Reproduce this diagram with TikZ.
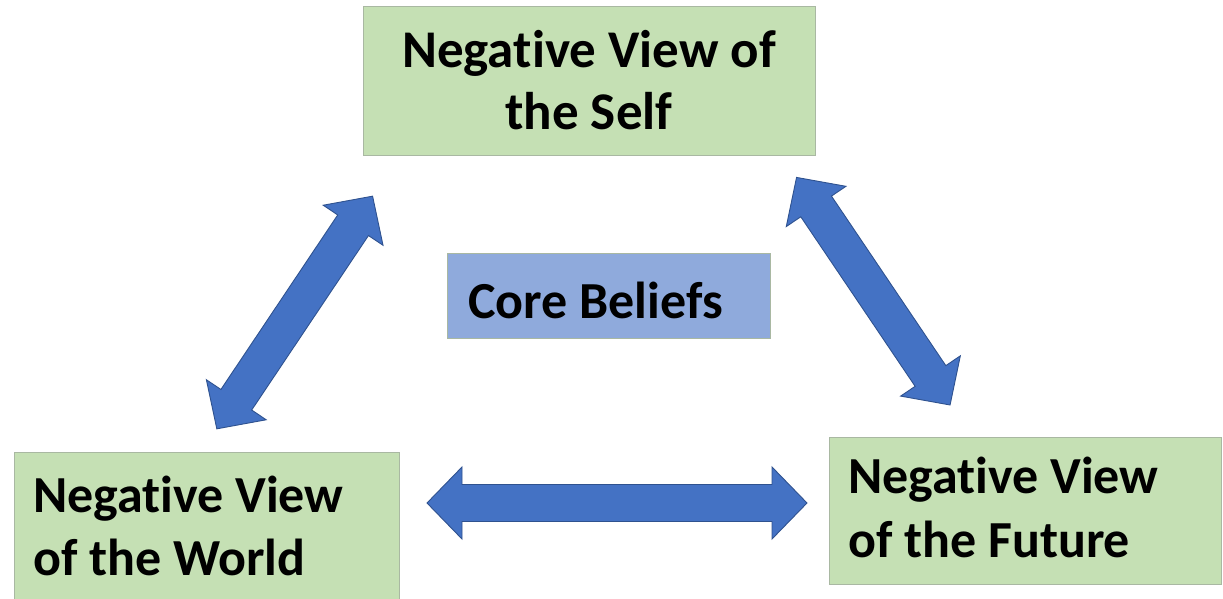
\documentclass[tikz,border=0pt]{standalone}
\usepackage{fontspec}
\setmainfont[RawFeature={-liga;-clig;-calt;-dlig}]{Carlito}

\definecolor{boxgreen}{HTML}{C5E0B4}
\definecolor{boxline}{HTML}{A9B8A2}
\definecolor{coreblue}{HTML}{8FAADC}
\definecolor{arrowfill}{HTML}{4472C4}
\definecolor{arrowline}{HTML}{2F528F}

\tikzset{
  viewbox/.style={draw=boxline, fill=boxgreen, line width=0.8pt},
  corebox/.style={draw=boxline, fill=coreblue, line width=0.8pt},
  bigtext/.style={inner sep=0pt, font=\fontsize{53}{64}\selectfont\bfseries},
  midtext/.style={inner sep=0pt, font=\fontsize{52}{62}\selectfont\bfseries},
  arrowbody/.style={draw=arrowline, fill=arrowfill, line width=0.9pt, line join=miter},
  % block arrow with a head at both ends; the argument is its tip-to-tip length
  pics/twoway/.style={code={
    \pgfmathsetmacro\halflen{#1/2}
    \coordinate (-centre) at (0,0);
    \draw[arrowbody] (-\halflen,0) -- (-\halflen+35,-36) -- (-\halflen+35,-18.5)
      -- (\halflen-35,-18.5) -- (\halflen-35,-36) -- (\halflen,0)
      -- (\halflen-35,36) -- (\halflen-35,18.5) -- (-\halflen+35,18.5)
      -- (-\halflen+35,36) -- cycle;
  }}
}

\begin{document}
\begin{tikzpicture}[x=1pt, y=-1pt]
\useasboundingbox (0,0) rectangle (1223,599);

% the three views
\draw[viewbox] (363,6) rectangle (815,155);
\node[bigtext, anchor=base] (selfA) at (589,68) {Negative View of};
\node[bigtext, anchor=base] (selfB) at (589,130) {the Self};

\draw[viewbox] (14,452) rectangle (399,604);
\node[midtext, anchor=base west] (worldA) at (33,512) {Negative View};
\node[midtext, anchor=base west] (worldB) at (33,575) {of the World};

\draw[viewbox] (829,437) rectangle (1221,584);
\node[midtext, anchor=base west] (futureA) at (848,493) {Negative View};
\node[midtext, anchor=base west] (futureB) at (848,557) {of the Future};

% centre
\draw[corebox] (447,253) rectangle (770,338);
\node[midtext, anchor=base west] (core) at (468,318) {Core Beliefs};

% two-way block arrows
\pic[rotate=56.2] (selfworld) at (294.7,312.5) {twoway=280};
\pic[rotate=-56] (selffuture) at (873.3,291.2) {twoway=274.5};
\pic (worldfuture) at (617,503) {twoway=380};
\end{tikzpicture}
\end{document}
